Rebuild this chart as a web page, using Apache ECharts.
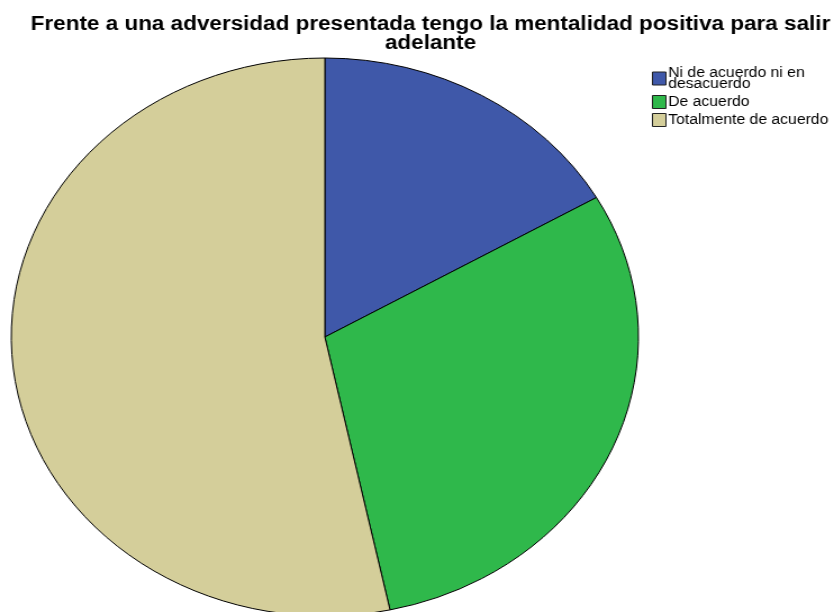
<!DOCTYPE html>
<html>
<head>
<meta charset="utf-8">
<script src="https://cdn.jsdelivr.net/npm/echarts@6/dist/echarts.min.js"></script>
<style>
  html, body { margin: 0; padding: 0; background: #fff; overflow: hidden; }
  /* the reference is stretched horizontally, so draw narrower and stretch */
  #chart { width: 742px; height: 612px; transform: scaleX(1.124); transform-origin: 0 0; }
</style>
</head>
<body>
<div id="chart"></div>
<script>
  const titleText = 'Frente a una adversidad presentada tengo la mentalidad positiva para salir\nadelante';
  const categories = ['Ni de acuerdo ni en\ndesacuerdo', 'De acuerdo', 'Totalmente de acuerdo'];
  const counts = [10, 18, 32];
  const colors = ['#3f58a9', '#2fb84b', '#d4ce9a'];

  const chart = echarts.init(document.getElementById('chart'));

  const option = {
    animation: false,
    title: {
      text: titleText,
      left: 378,
      top: 10,
      textAlign: 'center',
      textStyle: {
        fontFamily: 'Liberation Sans',
        fontWeight: 'bold',
        fontSize: 20,
        lineHeight: 19,
        color: '#000'
      }
    },
    legend: {
      orient: 'vertical',
      left: 580,
      top: 66,
      padding: 0,
      itemWidth: 12,
      itemHeight: 13,
      itemGap: 4,
      icon: 'rect',
      data: categories,
      itemStyle: { borderColor: '#222', borderWidth: 1 },
      textStyle: {
        fontFamily: 'Liberation Sans',
        fontSize: 14,
        lineHeight: 11,
        color: '#000',
        padding: [0, 0, 0, -3]
      }
    },
    series: [{
      type: 'pie',
      center: [289, 337],
      radius: [0, 279],
      startAngle: 90,
      clockwise: true,
      label: { show: false },
      labelLine: { show: false },
      emphasis: { disabled: true },
      itemStyle: { borderColor: '#000', borderWidth: 1 },
      data: categories.map((name, i) => ({
        name: name,
        value: counts[i],
        itemStyle: { color: colors[i] }
      }))
    }]
  };

  chart.setOption(option);
</script>
</body>
</html>
